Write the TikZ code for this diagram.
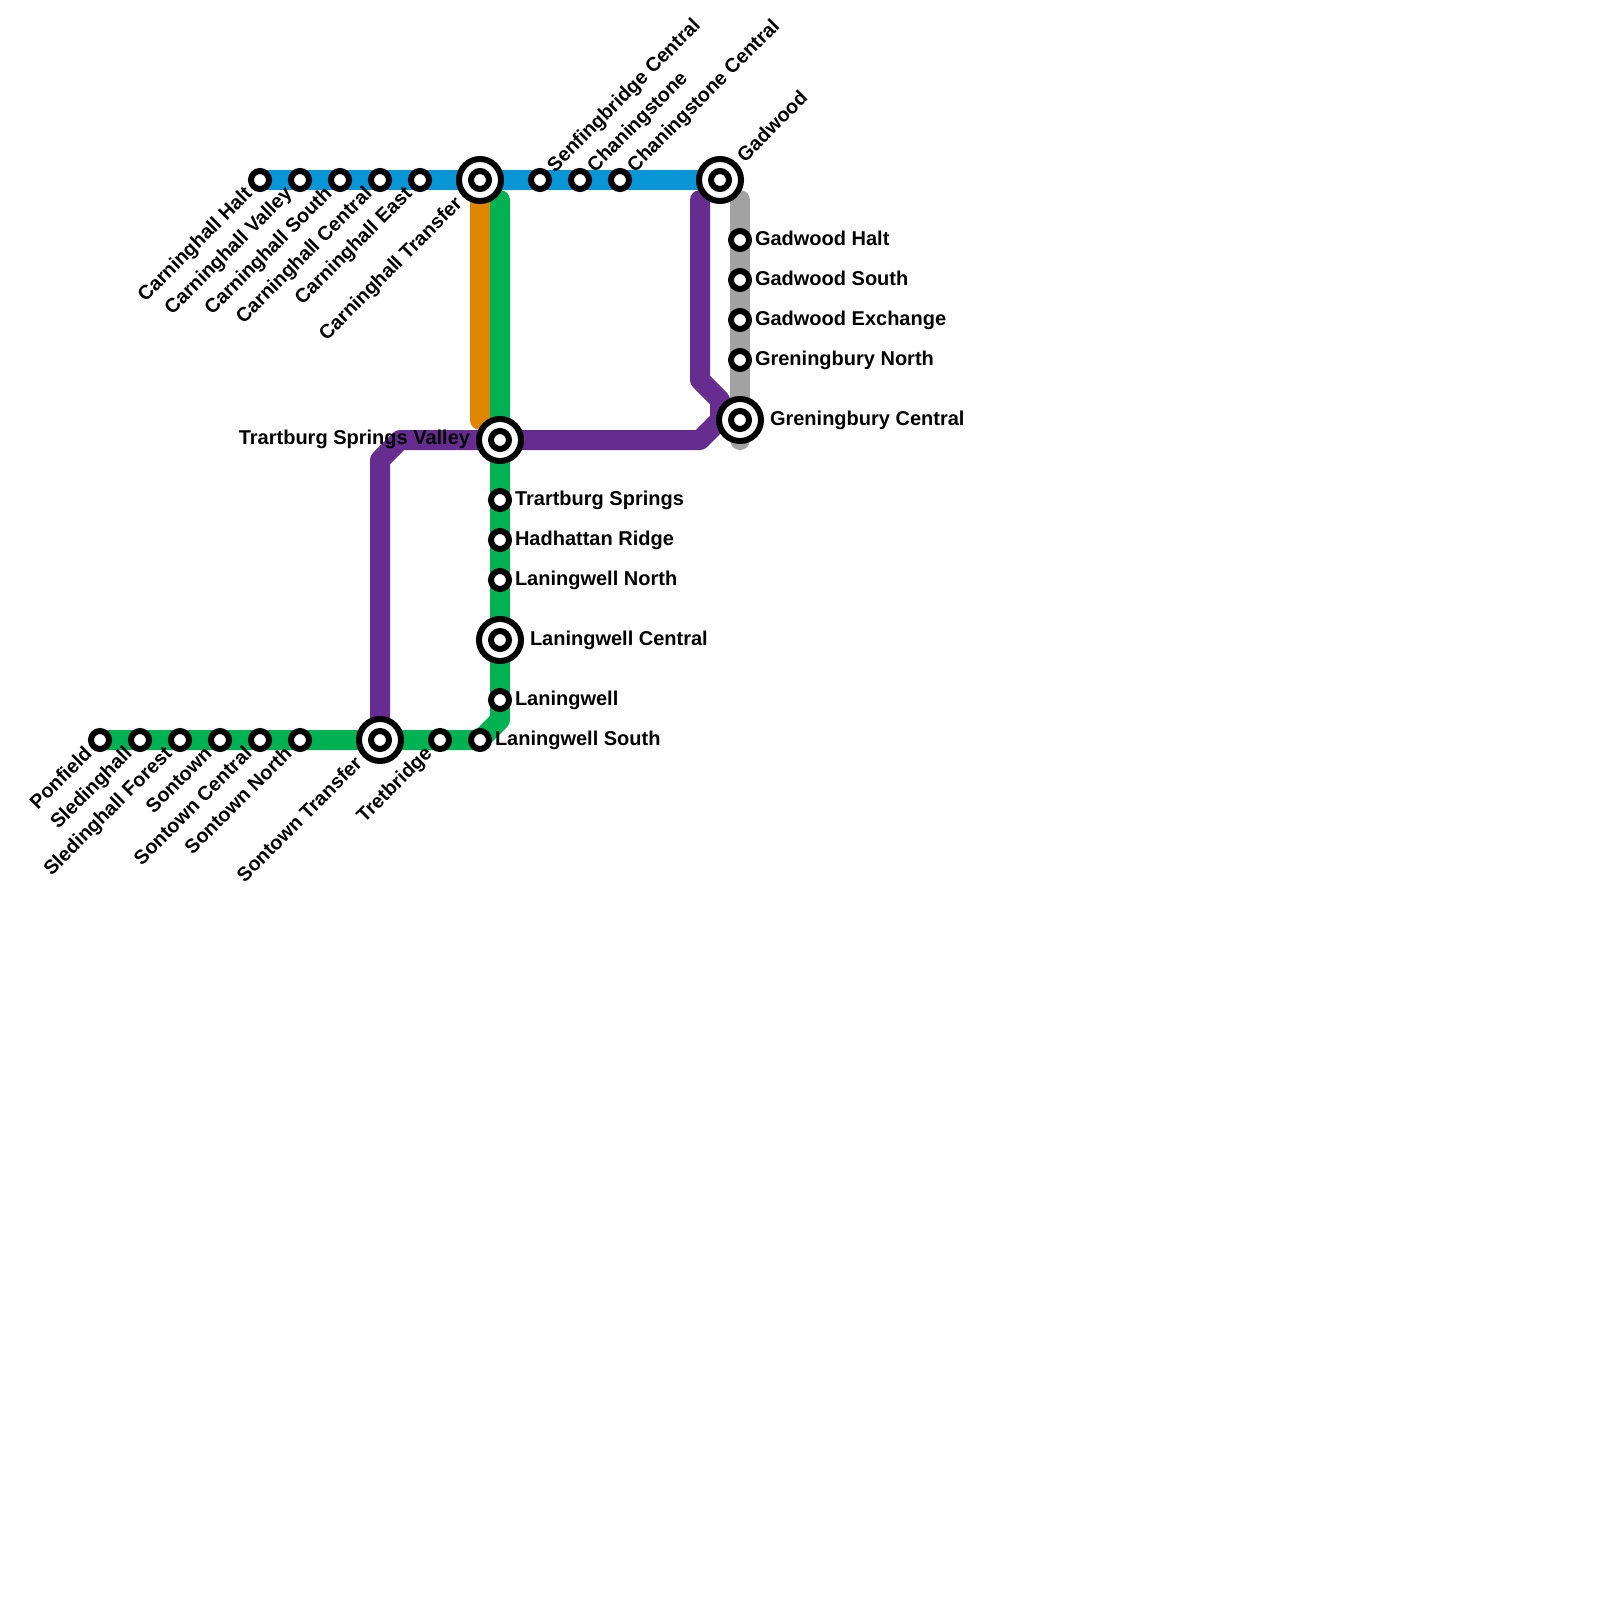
\documentclass[tikz,border=0pt]{standalone}
\usepackage{fontspec}
\setmainfont{Liberation Sans}
\pgfdeclarelayer{lines}
\pgfdeclarelayer{lines2}
\pgfsetlayers{lines,lines2,main}
\definecolor{cblue}{HTML}{0896D7}
\definecolor{cgreen}{HTML}{00B251}
\definecolor{corange}{HTML}{DF8600}
\definecolor{cpurple}{HTML}{662C90}
\definecolor{cgray}{HTML}{A2A2A2}
\tikzset{
  metro/.style={line width=20pt,line cap=round,line join=round},
  smallst/.style={circle,draw=black,fill=white,line width=6pt,minimum size=18pt,inner sep=0pt,outer sep=0pt},
  bigring/.style={circle,draw=black,fill=white,line width=6pt,minimum size=42pt,inner sep=0pt,outer sep=0pt},
  lab/.style={font=\fontsize{20}{22}\selectfont\bfseries,text=black,inner sep=0pt,outer sep=0pt},
  rotlab/.style={font=\fontsize{19.8}{22}\selectfont\bfseries,text=black,inner sep=0pt,outer sep=0pt},
  rlab/.style={lab,anchor=base west},
  llab/.style={lab,anchor=base east},
  uplab/.style={rotlab,anchor=base west,rotate=45},
  dnlab/.style={rotlab,anchor=base east,rotate=45},
}
\newcommand{\sst}[3]{\node[smallst] (#1) at (#2,#3) {};}
\newcommand{\bst}[3]{\node[bigring] (#1) at (#2,#3) {};\node[smallst] (#1-i) at (#1.center) {};}
\begin{document}
\begin{tikzpicture}[x=1pt,y=-1pt]
\path[use as bounding box] (0,0) rectangle (1600,1600);
% stations
\sst{a1}{260}{180}\sst{a2}{300}{180}\sst{a3}{340}{180}\sst{a4}{380}{180}\sst{a5}{420}{180}
\bst{ct}{480}{180}
\sst{a6}{540}{180}\sst{a7}{580}{180}\sst{a8}{620}{180}
\bst{gw}{720}{180}
\sst{g1}{740}{240}\sst{g2}{740}{280}\sst{g3}{740}{320}\sst{g4}{740}{360}
\bst{gc}{740}{420}
\bst{tv}{500}{440}
\sst{b1}{500}{500}\sst{b2}{500}{540}\sst{b3}{500}{580}
\bst{lc}{500}{640}
\sst{b4}{500}{700}\sst{b5}{480}{740}\sst{b6}{440}{740}
\bst{st}{380}{740}
\sst{c1}{100}{740}\sst{c2}{140}{740}\sst{c3}{180}{740}\sst{c4}{220}{740}\sst{c5}{260}{740}\sst{c6}{300}{740}
% bend coordinates
\coordinate (gtop) at (500,200);
\coordinate (otop) at (480,200);
\coordinate (obot) at (480,420);
\coordinate (gb1) at (500,720);
\coordinate (ptop) at (700,200);
\coordinate (pb1) at (700,380);
\coordinate (pb2) at (720,400);
\coordinate (pb3) at (720,420);
\coordinate (pb4) at (700,440);
\coordinate (pb5) at (400,440);
\coordinate (pb6) at (380,460);
\coordinate (gytop) at (740,200);
\coordinate (gybot) at (740,440);
% lines
\begin{pgfonlayer}{lines}
\draw[metro,corange] (otop) -- (obot);
\draw[metro,cgreen] (gtop) -- (gb1) -- (b5.center) -- (c1.center);
\draw[metro,cgray] (gytop) -- (gybot);
\end{pgfonlayer}
\begin{pgfonlayer}{lines2}
\draw[metro,cblue] (a1.center) -- (gw.center);
\draw[metro,cpurple] (ptop) -- (pb1) -- (pb2) -- (pb3) -- (pb4) -- (pb5) -- (pb6) -- (st.center);
\end{pgfonlayer}
% labels
\node[dnlab] (la1) at ([shift={(-7,15)}]a1.center) {Carninghall Halt};
\node[dnlab] (la2) at ([shift={(-7,15)}]a2.center) {Carninghall Valley};
\node[dnlab] (la3) at ([shift={(-7,15)}]a3.center) {Carninghall South};
\node[dnlab] (la4) at ([shift={(-7,15)}]a4.center) {Carninghall Central};
\node[dnlab] (la5) at ([shift={(-7,15)}]a5.center) {Carninghall East};
\node[dnlab] (lct) at ([shift={(-17,25)}]ct.center) {Carninghall Transfer};
\node[uplab] (la6) at ([shift={(15,-7)}]a6.center) {Senfingbridge Central};
\node[uplab] (la7) at ([shift={(15,-7)}]a7.center) {Chaningstone};
\node[uplab] (la8) at ([shift={(15,-7)}]a8.center) {Chaningstone Central};
\node[uplab] (lgw) at ([shift={(25,-17)}]gw.center) {Gadwood};
\node[rlab] (lg1) at ([shift={(15,5)}]g1.center) {Gadwood Halt};
\node[rlab] (lg2) at ([shift={(15,5)}]g2.center) {Gadwood South};
\node[rlab] (lg3) at ([shift={(15,5)}]g3.center) {Gadwood Exchange};
\node[rlab] (lg4) at ([shift={(15,5)}]g4.center) {Greningbury North};
\node[rlab] (lgc) at ([shift={(30,5)}]gc.center) {Greningbury Central};
\node[llab] (ltv) at ([shift={(-30,4.5)}]tv.center) {Trartburg Springs Valley};
\node[rlab] (lb1) at ([shift={(15,5)}]b1.center) {Trartburg Springs};
\node[rlab] (lb2) at ([shift={(15,5)}]b2.center) {Hadhattan Ridge};
\node[rlab] (lb3) at ([shift={(15,5)}]b3.center) {Laningwell North};
\node[rlab] (llc) at ([shift={(30,5)}]lc.center) {Laningwell Central};
\node[rlab] (lb4) at ([shift={(15,5)}]b4.center) {Laningwell};
\node[rlab] (lb5) at ([shift={(15,5)}]b5.center) {Laningwell South};
\node[dnlab] (lb6) at ([shift={(-7,15)}]b6.center) {Tretbridge};
\node[dnlab] (lst) at ([shift={(-17,25)}]st.center) {Sontown Transfer};
\node[dnlab] (lc1) at ([shift={(-7,15)}]c1.center) {Ponfield};
\node[dnlab] (lc2) at ([shift={(-7,15)}]c2.center) {Sledinghall};
\node[dnlab] (lc3) at ([shift={(-7,15)}]c3.center) {Sledinghall Forest};
\node[dnlab] (lc4) at ([shift={(-7,15)}]c4.center) {Sontown};
\node[dnlab] (lc5) at ([shift={(-7,15)}]c5.center) {Sontown Central};
\node[dnlab] (lc6) at ([shift={(-7,15)}]c6.center) {Sontown North};
\end{tikzpicture}
\end{document}
